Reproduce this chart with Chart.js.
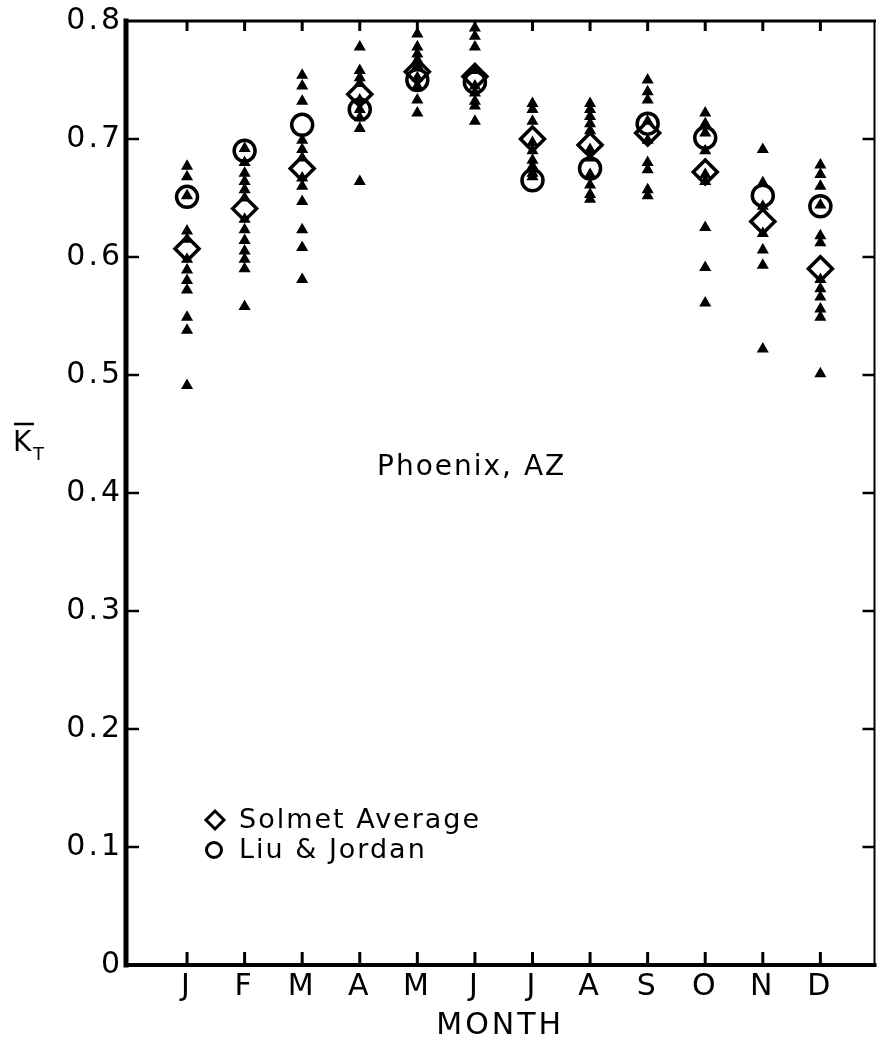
<!DOCTYPE html>
<html>
<head>
<meta charset="utf-8">
<script src="https://cdn.jsdelivr.net/npm/chart.js@4"></script>
<style>
  html, body { margin: 0; padding: 0; background: #fff; }
  #wrap { width: 890px; height: 1044px; }
</style>
</head>
<body>
<div id="wrap"><canvas id="chart" width="890" height="1044"></canvas></div>
<script>
(function () {
  var MONTHS = ['J', 'F', 'M', 'A', 'M', 'J', 'J', 'A', 'S', 'O', 'N', 'D'];
  var Y_TICKS = [0, 0.1, 0.2, 0.3, 0.4, 0.5, 0.6, 0.7, 0.8];

  // Solmet monthly average K_T
  var SOLMET_AVG = [0.607, 0.641, 0.675, 0.738, 0.757, 0.753, 0.700, 0.695, 0.705, 0.672, 0.630, 0.590];
  // Liu & Jordan monthly K_T
  var LIU_JORDAN = [0.651, 0.690, 0.712, 0.725, 0.750, 0.748, 0.665, 0.675, 0.713, 0.701, 0.652, 0.643];

  // individual years (small triangles), one list per month
  var YEARS_JAN = [0.677, 0.668, 0.652, 0.622, 0.615, 0.598, 0.589, 0.580, 0.572, 0.549, 0.538, 0.491];
  var YEARS_FEB = [0.692, 0.680, 0.671, 0.664, 0.657, 0.650, 0.632, 0.623, 0.614, 0.605, 0.598, 0.590, 0.558];
  var YEARS_MAR = [0.754, 0.745, 0.732, 0.699, 0.691, 0.684, 0.667, 0.660, 0.647, 0.623, 0.608, 0.581];
  var YEARS_APR = [0.778, 0.758, 0.752, 0.747, 0.733, 0.725, 0.718, 0.709, 0.664];
  var YEARS_MAY = [0.789, 0.778, 0.772, 0.767, 0.762, 0.752, 0.745, 0.733, 0.722];
  var YEARS_JUN = [0.794, 0.787, 0.778, 0.758, 0.745, 0.739, 0.732, 0.728, 0.715];
  var YEARS_JUL = [0.730, 0.725, 0.715, 0.697, 0.690, 0.682, 0.677, 0.671, 0.668];
  var YEARS_AUG = [0.730, 0.725, 0.719, 0.713, 0.707, 0.691, 0.684, 0.670, 0.661, 0.653, 0.649];
  var YEARS_SEP = [0.750, 0.740, 0.733, 0.715, 0.699, 0.680, 0.674, 0.657, 0.652];
  var YEARS_OCT = [0.722, 0.713, 0.705, 0.690, 0.670, 0.664, 0.625, 0.591, 0.561];
  var YEARS_NOV = [0.691, 0.663, 0.643, 0.620, 0.606, 0.593, 0.522];
  var YEARS_DEC = [0.678, 0.670, 0.660, 0.644, 0.618, 0.612, 0.581, 0.573, 0.566, 0.556, 0.549, 0.501];

  var YEARS = [YEARS_JAN, YEARS_FEB, YEARS_MAR, YEARS_APR, YEARS_MAY, YEARS_JUN,
               YEARS_JUL, YEARS_AUG, YEARS_SEP, YEARS_OCT, YEARS_NOV, YEARS_DEC];

  var FONT = '"DejaVu Sans", sans-serif';
  var INK = '#000';
  var SPACING = '3px'; // the lettering in the original is wide

  var yearPts = [];
  YEARS.forEach(function (list, i) {
    list.forEach(function (v) { yearPts.push({ x: i + 1, y: v }); });
  });
  var solmetPts = SOLMET_AVG.map(function (v, i) { return { x: i + 1, y: v }; });
  var liuPts = LIU_JORDAN.map(function (v, i) { return { x: i + 1, y: v }; });

  var framePlugin = {
    id: 'frame',
    beforeDraw: function (chart) {
      chart.ctx.letterSpacing = SPACING;
    },
    afterDraw: function (chart) {
      var c = chart.ctx;
      var a = chart.chartArea;
      var xs = chart.scales.x;
      var ys = chart.scales.y;
      c.save();
      c.strokeStyle = INK;
      c.lineCap = 'square';
      // frame
      c.lineWidth = 5;
      c.beginPath(); c.moveTo(a.left, a.top); c.lineTo(a.left, a.bottom); c.stroke();
      c.lineWidth = 4;
      c.beginPath(); c.moveTo(a.left, a.bottom); c.lineTo(a.right, a.bottom); c.stroke();
      c.lineWidth = 3;
      c.beginPath(); c.moveTo(a.left, a.top); c.lineTo(a.right, a.top); c.stroke();
      c.lineWidth = 2;
      c.beginPath(); c.moveTo(a.right, a.top); c.lineTo(a.right, a.bottom); c.stroke();
      // inward ticks
      c.lineWidth = 3;
      c.lineCap = 'butt';
      MONTHS.forEach(function (m, i) {
        var px = xs.getPixelForValue(i + 1);
        c.beginPath(); c.moveTo(px, a.bottom); c.lineTo(px, a.bottom - 13); c.stroke();
        c.beginPath(); c.moveTo(px, a.top); c.lineTo(px, a.top + 10); c.stroke();
      });
      c.lineWidth = 2.5;
      Y_TICKS.forEach(function (v) {
        if (v === 0 || v === 0.8) return;
        var py = ys.getPixelForValue(v);
        c.beginPath(); c.moveTo(a.left, py); c.lineTo(a.left + 13, py); c.stroke();
        c.beginPath(); c.moveTo(a.right, py); c.lineTo(a.right - 12, py); c.stroke();
      });

      // y axis title: K-bar with subscript T
      c.fillStyle = INK;
      c.letterSpacing = '0px';
      c.textBaseline = 'alphabetic';
      c.textAlign = 'left';
      c.font = '28px ' + FONT;
      c.fillText('K', 13, 451);
      c.font = '18px ' + FONT;
      c.fillText('T', 33, 460);
      c.lineWidth = 2.5;
      c.beginPath(); c.moveTo(14, 424); c.lineTo(34, 424); c.stroke();

      // station label
      c.letterSpacing = '2px';
      c.font = '28px ' + FONT;
      c.textBaseline = 'middle';
      c.fillText('Phoenix, AZ', 377, 468);

      // legend
      c.font = '27px ' + FONT;
      c.fillText('Solmet Average', 239, 821);
      c.fillText('Liu & Jordan', 239, 851);
      c.lineWidth = 3;
      c.beginPath();
      c.moveTo(215, 811); c.lineTo(224, 820); c.lineTo(215, 829); c.lineTo(206, 820); c.closePath();
      c.stroke();
      c.beginPath(); c.arc(214, 850, 7.5, 0, Math.PI * 2); c.stroke();
      c.restore();
    }
  };

  new Chart(document.getElementById('chart'), {
    type: 'scatter',
    data: {
      datasets: [{
        label: 'Individual years',
        data: yearPts,
        pointStyle: 'triangle',
        pointRadius: 5.5,
        backgroundColor: INK,
        borderColor: INK,
        borderWidth: 1.5,
      }, {
        label: 'Solmet Average',
        data: solmetPts,
        pointStyle: 'rectRot',
        pointRadius: 12,
        backgroundColor: 'rgba(0,0,0,0)',
        borderColor: INK,
        borderWidth: 3.5,
      }, {
        label: 'Liu & Jordan',
        data: liuPts,
        pointStyle: 'circle',
        pointRadius: 10.5,
        backgroundColor: 'rgba(0,0,0,0)',
        borderColor: INK,
        borderWidth: 3.5,
      }],
    },
    options: {
      responsive: false,
      animation: false,
      layout: { padding: { top: 18, right: 3, left: 0, bottom: 0 } },
      plugins: {
        legend: { display: false },
        tooltip: { enabled: false },
      },
      scales: {
        x: {
          type: 'linear',
          min: -0.06,
          max: 12.94,
          afterBuildTicks: function (scale) {
            scale.ticks = MONTHS.map(function (m, i) { return { value: i + 1 }; });
          },
          ticks: {
            autoSkip: false,
            maxRotation: 0,
            color: INK,
            font: { family: FONT, size: 30 },
            padding: 4,
            callback: function (v) { return MONTHS[v - 1]; },
          },
          grid: { display: false, drawTicks: false },
          border: { display: false },
          title: {
            display: true,
            text: 'MONTH',
            color: INK,
            font: { family: FONT, size: 30 },
            padding: { top: 0, bottom: 0 },
          },
          afterFit: function (scale) { scale.height = 79; },
        },
        y: {
          min: 0,
          max: 0.8,
          afterBuildTicks: function (scale) {
            scale.ticks = Y_TICKS.map(function (v) { return { value: v }; });
          },
          ticks: {
            color: INK,
            font: { family: FONT, size: 30 },
            padding: 3,
            callback: function (v) { return v === 0 ? '0' : v.toFixed(1); },
          },
          grid: { display: false, drawTicks: false },
          border: { display: false },
          afterFit: function (scale) { scale.width = 126; },
        },
      },
    },
    plugins: [framePlugin],
  });
})();
</script>
</body>
</html>
